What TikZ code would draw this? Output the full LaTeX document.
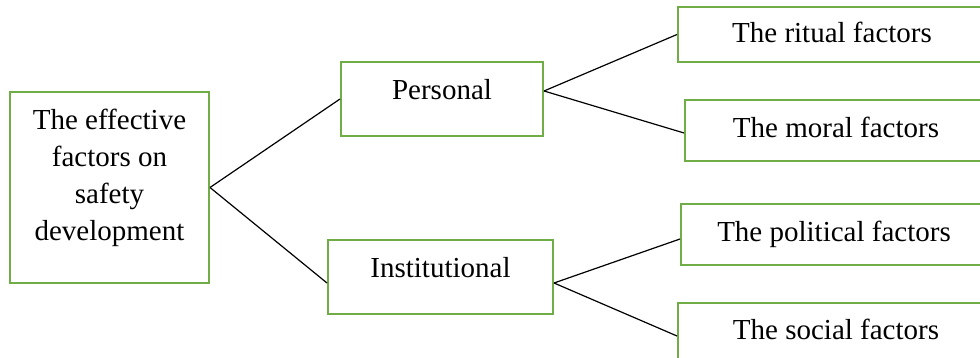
\documentclass[tikz,border=0pt]{standalone}
\usepackage{fontspec}
\setmainfont{Liberation Serif}
\definecolor{boxgreen}{HTML}{70AD47}
\begin{document}
\begin{tikzpicture}[x=0.5pt,y=-0.5pt,
  gbox/.style={draw=boxgreen,line width=1pt,fill=white,inner sep=0pt,
    font=\fontsize{14.5}{18.5}\selectfont},
  conn/.style={draw=black,line width=0.6pt}]
\useasboundingbox (0,0) rectangle (980,358);
\clip (0,0) rectangle (980,358);
\node[gbox,minimum width=99.5pt,minimum height=95.5pt] (root) at (109.5,187.5)
  {\raisebox{1.5pt}[0pt][0pt]{\begin{tabular}{@{}c@{}}The effective\\factors on\\safety\\development\end{tabular}}};
\node[gbox,minimum width=101pt,minimum height=37pt] (pers) at (442,99)
  {\raisebox{-0.1pt}[0pt][0pt]{Personal}};
\node[gbox,minimum width=112.5pt,minimum height=37pt] (inst) at (440.5,277)
  {\raisebox{-0.1pt}[0pt][0pt]{Institutional}};
\node[gbox,minimum width=154pt,minimum height=27.5pt] (rit) at (832,34.5)
  {\raisebox{-3.9pt}[0pt][0pt]{The ritual factors}};
\node[gbox,minimum width=151pt,minimum height=30.5pt] (mor) at (836,130.5)
  {\raisebox{-3.6pt}[0pt][0pt]{The moral factors}};
\node[gbox,minimum width=153pt,minimum height=30.5pt] (pol) at (834,234.5)
  {\raisebox{-3.6pt}[0pt][0pt]{The political factors}};
\node[gbox,minimum width=158pt,minimum height=29pt] (soc) at (836,332)
  {\raisebox{-3.6pt}[0pt][0pt]{The social factors}};
\draw[conn] (root.east) -- (pers.west);
\draw[conn] (root.east) -- ([yshift=-3pt]inst.west);
\draw[conn] ([yshift=4pt]pers.east) -- (rit.west);
\draw[conn] ([yshift=4pt]pers.east) -- ([yshift=-1.25pt]mor.west);
\draw[conn] ([yshift=-3pt]inst.east) -- ([yshift=-2.25pt]pol.west);
\draw[conn] ([yshift=-3pt]inst.east) -- ([yshift=-2pt]soc.west);
\end{tikzpicture}
\end{document}
